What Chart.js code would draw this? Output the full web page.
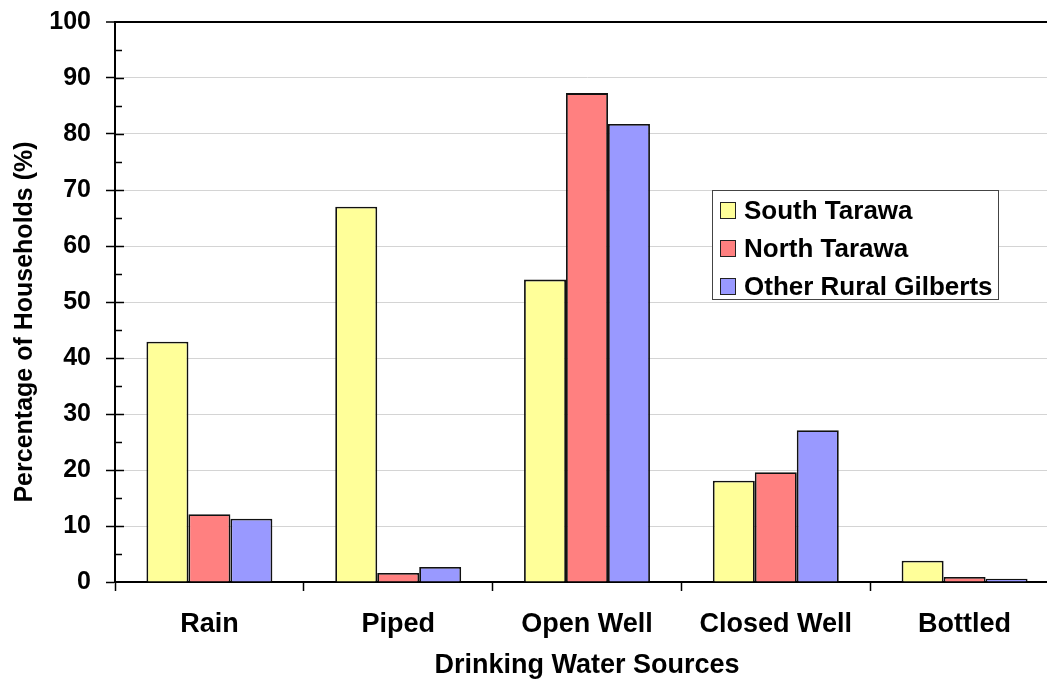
<!DOCTYPE html>
<html>
<head>
<meta charset="utf-8">
<script src="https://cdn.jsdelivr.net/npm/chart.js@4.4.1/dist/chart.umd.min.js"></script>
<style>
  html, body { margin: 0; padding: 0; background: #fff; overflow: hidden; }
  #wrap { position: relative; width: 1059px; height: 682px; }
  #legend {
    position: absolute; left: 712px; top: 190px; width: 287px; height: 110px;
    border: 1px solid #444; background: #fff; box-sizing: border-box;
    font: bold 26px "Liberation Sans", Arial, sans-serif; color: #000;
  }
  #legend .row { display: flex; align-items: center; height: 38px; padding-left: 7px; }
  #legend .row:first-child { margin-top: 0px; }
  #legend .sw { width: 16px; height: 17px; border: 1.5px solid #222; margin-right: 8px; box-sizing: border-box; }
</style>
</head>
<body>
<div id="wrap">
  <canvas id="chart" width="1059" height="682"></canvas>
  <div id="legend"></div>
</div>
<script>
const categories = ['Rain', 'Piped', 'Open Well', 'Closed Well', 'Bottled'];
const seriesNames = ['South Tarawa', 'North Tarawa', 'Other Rural Gilberts'];
const southTarawa = [42.9, 67.0, 54.0, 18.1, 3.8];
const northTarawa = [12.1, 1.6, 87.3, 19.6, 0.9];
const otherRural = [11.3, 2.7, 81.8, 27.1, 0.6];
const yTicks = [0, 10, 20, 30, 40, 50, 60, 70, 80, 90, 100];
const colors = ['#FFFF99', '#FF8080', '#9999FF'];
const yTitle = 'Percentage of Households (%)';

const FONT = '"Liberation Sans", Arial, sans-serif';

// small tick marks on the inner side of the y axis + the y title (sits a bit below centre)
const axisExtras = {
  id: 'axisExtras',
  afterDraw(chart) {
    const y = chart.scales.y;
    const ctx = chart.ctx;
    const left = chart.chartArea.left;
    ctx.save();
    ctx.strokeStyle = '#000';
    ctx.lineWidth = 1.5;
    ctx.beginPath();
    for (let v = 5; v < 100; v += 5) {
      const py = Math.round(y.getPixelForValue(v)) + 0.5;
      const len = v % 10 === 0 ? 9 : 7;
      ctx.moveTo(left, py);
      ctx.lineTo(left + len, py);
    }
    ctx.stroke();

    ctx.translate(25, 322);
    ctx.rotate(-Math.PI / 2);
    ctx.font = 'bold 25px ' + FONT;
    ctx.fillStyle = '#000';
    ctx.textAlign = 'center';
    ctx.textBaseline = 'middle';
    ctx.fillText(yTitle, 0, 0);
    ctx.restore();
  }
};

const chart = new Chart(document.getElementById('chart'), {
  type: 'bar',
  data: {
    labels: categories,
    datasets: [southTarawa, northTarawa, otherRural].map((vals, i) => ({
      label: seriesNames[i],
      data: vals,
      backgroundColor: colors[i],
      borderColor: '#111',
      borderWidth: 1.8,
      categoryPercentage: 0.667,
      barPercentage: 1.0
    }))
  },
  options: {
    responsive: false,
    animation: false,
    devicePixelRatio: 1,
    layout: { padding: { top: 22, right: 0, bottom: 0, left: 0 } },
    plugins: {
      legend: { display: false },
      tooltip: { enabled: false }
    },
    scales: {
      x: {
        offset: true,
        grid: { offset: true, drawOnChartArea: false, tickLength: 9, tickColor: '#000', tickWidth: 1.5 },
        border: { color: '#000', width: 2 },
        ticks: { color: '#000', padding: 17, font: { family: FONT, size: 27, weight: 'bold' } },
        title: {
          display: true, text: 'Drinking Water Sources', color: '#000',
          padding: { top: 0, bottom: 0 },
          font: { family: FONT, size: 27, weight: 'bold' }
        },
        afterFit(scale) { scale.height = 100; scale.paddingLeft = 0; scale.paddingRight = 0; }
      },
      y: {
        min: 0,
        max: 100,
        afterBuildTicks(scale) { scale.ticks = yTicks.map(v => ({ value: v })); },
        grid: {
          color: c => c.tick && c.tick.value === 100 ? '#000' : (c.tick && c.tick.value === 0 ? 'rgba(0,0,0,0)' : '#d4d4d4'),
          lineWidth: c => c.tick && c.tick.value === 100 ? 2 : 1,
          tickLength: 9,
          tickColor: '#000',
          tickWidth: 1.5
        },
        border: { color: '#000', width: 2 },
        ticks: { color: '#000', padding: 15, font: { family: FONT, size: 25, weight: 'bold' } },
        title: { display: false },
        afterFit(scale) { scale.width = 115; scale.paddingTop = 0; scale.paddingBottom = 0; }
      }
    }
  },
  plugins: [axisExtras]
});

// legend box built from the chart's datasets
const legendEl = document.getElementById('legend');
legendEl.innerHTML = chart.data.datasets.map(ds => `
  <div class="row"><div class="sw" style="background:${ds.backgroundColor}"></div><span>${ds.label}</span></div>
`).join('');
</script>
</body>
</html>
